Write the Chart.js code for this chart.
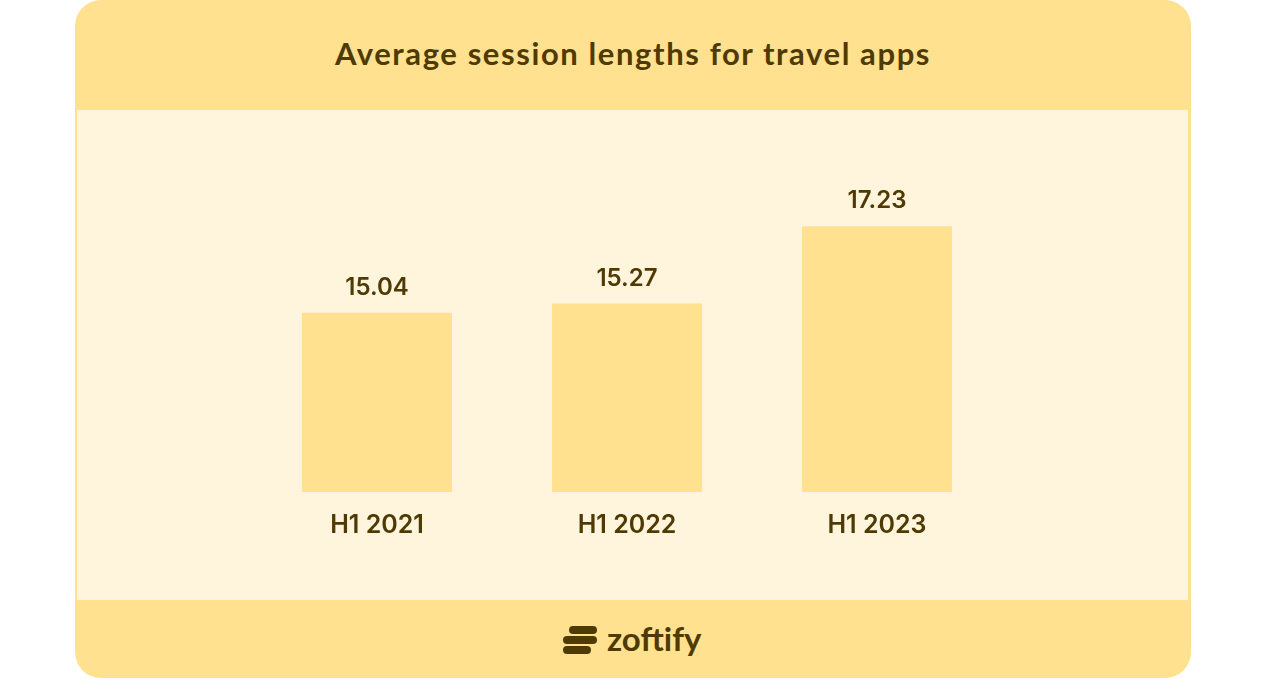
<!DOCTYPE html>
<html>
<head>
<meta charset="utf-8">
<script src="https://cdn.jsdelivr.net/npm/chart.js@4"></script>
<style>
  body { margin: 0; background: #fff; width: 1280px; height: 679px; overflow: hidden; }
  .card { position: absolute; left: 75px; top: 0; width: 1116px; height: 678px; background: #ffe190; border-radius: 26px; }
  .title { position: absolute; left: 0; right: 0; top: 34px; text-align: center; font: 700 31px Lato, sans-serif; letter-spacing: 1.6px; color: #4f3a03; }
  .plot { position: absolute; left: 2px; top: 110px; width: 1111px; height: 490px; background: #fff5dd; }
  .logo { position: absolute; left: 487px; top: 624px; height: 32px; display: flex; align-items: center; }
  .logo span { font: 700 33px Lato, sans-serif; color: #4f3a03; margin-left: 9px; margin-top: -5px; }
</style>
</head>
<body>
<div class="card">
  <div class="title">Average session lengths for travel apps</div>
  <div class="plot"><canvas id="chart"></canvas></div>
  <div class="logo">
    <svg width="36" height="30" viewBox="0 0 36 30">
      <rect x="7" y="1" width="28" height="8" rx="4" fill="#4f3a03"/>
      <rect x="1" y="11" width="34" height="8" rx="4" fill="#4f3a03"/>
      <rect x="1" y="21" width="28" height="8" rx="4" fill="#4f3a03"/>
    </svg>
    <span>zoftify</span>
  </div>
</div>
<script>
// Data
const categories = ['H1 2021', 'H1 2022', 'H1 2023'];
const sessionLengths = [15.04, 15.27, 17.23];

const TEXT = '#4f3a03';
const BAR = '#ffe190';

// Value labels above bars
const valueLabels = {
  id: 'valueLabels',
  afterDatasetsDraw(chart) {
    const ctx = chart.ctx;
    const meta = chart.getDatasetMeta(0);
    ctx.save();
    ctx.fillStyle = TEXT;
    ctx.font = '600 24px Inter, sans-serif';
    ctx.textAlign = 'center';
    ctx.textBaseline = 'middle';
    meta.data.forEach((bar, i) => {
      ctx.fillText(sessionLengths[i].toFixed(2), bar.x, bar.y - 25);
    });
    ctx.restore();
  }
};

new Chart(document.getElementById('chart'), {
  type: 'bar',
  data: {
    labels: categories,
    datasets: [{
      data: sessionLengths,
      backgroundColor: BAR,
      borderWidth: 0,
      categoryPercentage: 1,
      barPercentage: 0.6,
    }],
  },
  options: {
    responsive: true,
    maintainAspectRatio: false,
    animation: false,
    layout: { padding: { left: 175, right: 186, top: 66, bottom: 50 } },
    plugins: { legend: { display: false }, tooltip: { enabled: false } },
    scales: {
      x: {
        grid: { display: false },
        border: { display: false },
        ticks: { color: TEXT, font: { family: 'Inter', size: 25, weight: '600' }, padding: 10 },
      },
      y: {
        display: false,
        min: 10.5,
        max: 18.5,
      },
    },
  },
  plugins: [valueLabels],
});
</script>
</body>
</html>
